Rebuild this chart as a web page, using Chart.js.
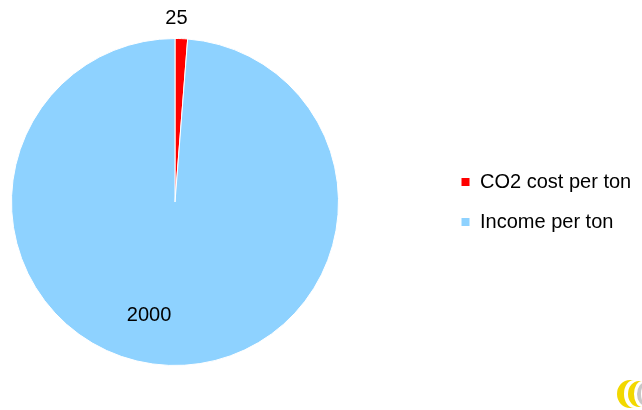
<!DOCTYPE html>
<html>
<head>
<meta charset="utf-8">
<script src="https://cdn.jsdelivr.net/npm/chart.js@4.4.1/dist/chart.umd.min.js"></script>
<style>
  html, body { margin: 0; padding: 0; background: #fff; overflow: hidden; }
  #wrap { width: 642px; height: 410px; overflow: hidden; position: relative; }
  #myChart { position: absolute; left: -91px; top: 0; }
</style>
</head>
<body>
<div id="wrap"><canvas id="myChart" width="733" height="410"></canvas></div>
<script>
// chart values
const categories = ['CO2 cost per ton', 'Income per ton'];
const values = [25, 2000];
const sliceColors = ['#ff0000', '#8ed2ff'];

// where each value label sits: fraction along the slice, radius factor
const labelSpots = [
  { along: 0.1, radius: 1.12 },
  { along: 0.53, radius: 0.71 }
];

const sliceLabels = {
  id: 'sliceLabels',
  afterDatasetsDraw(chart) {
    const ctx = chart.ctx;
    const meta = chart.getDatasetMeta(0);
    ctx.save();
    ctx.font = '20px "Liberation Sans", Arial, sans-serif';
    ctx.fillStyle = '#000';
    ctx.textAlign = 'center';
    ctx.textBaseline = 'middle';
    meta.data.forEach((arc, i) => {
      const p = arc.getProps(['x', 'y', 'startAngle', 'endAngle', 'outerRadius'], true);
      const spot = labelSpots[i];
      const a = p.startAngle + (p.endAngle - p.startAngle) * spot.along;
      const r = p.outerRadius * spot.radius;
      ctx.fillText(String(values[i]), p.x + Math.cos(a) * r, p.y + Math.sin(a) * r);
    });
    ctx.restore();
  }
};

// little clipped logo in the corner
const cornerLogo = {
  id: 'cornerLogo',
  afterDraw(chart) {
    const ctx = chart.ctx;
    const ox = chart.width - 642;
    const crescent = (cx, cy, rx, ry, d, rx2, color) => {
      ctx.beginPath();
      ctx.ellipse(ox + cx, cy, rx, ry, 0, Math.PI / 2, Math.PI * 1.5);
      ctx.ellipse(ox + cx + d, cy, rx2, ry, 0, Math.PI * 1.5, Math.PI / 2, true);
      ctx.closePath();
      ctx.fillStyle = color;
      ctx.fill();
    };
    ctx.save();
    crescent(630, 394, 13, 14, 4, 10, '#f2d800');
    crescent(639, 394, 11, 13, 3, 8, '#f2d800');
    crescent(646, 394, 9, 12, 2, 7, '#c8c8c8');
    ctx.restore();
  }
};

Chart.defaults.font.family = '"Liberation Sans", Arial, sans-serif';
Chart.defaults.color = '#000';

const chartContext = document.getElementById('myChart').getContext('2d');
const myChart = new Chart(chartContext, {
  type: 'pie',
  data: {
    labels: categories,
    datasets: [{
      data: values,
      backgroundColor: sliceColors,
      borderColor: '#ffffff',
      borderWidth: 1
    }]
  },
  options: {
    responsive: false,
    animation: false,
    layout: {
      padding: { left: 0, right: 11, top: 38, bottom: 44 }
    },
    plugins: {
      legend: {
        position: 'right',
        maxWidth: 190,
        labels: {
          boxWidth: 9,
          boxHeight: 9,
          padding: 20,
          font: { size: 20 }
        }
      },
      tooltip: { enabled: false }
    }
  },
  plugins: [sliceLabels, cornerLogo]
});
</script>
</body>
</html>
